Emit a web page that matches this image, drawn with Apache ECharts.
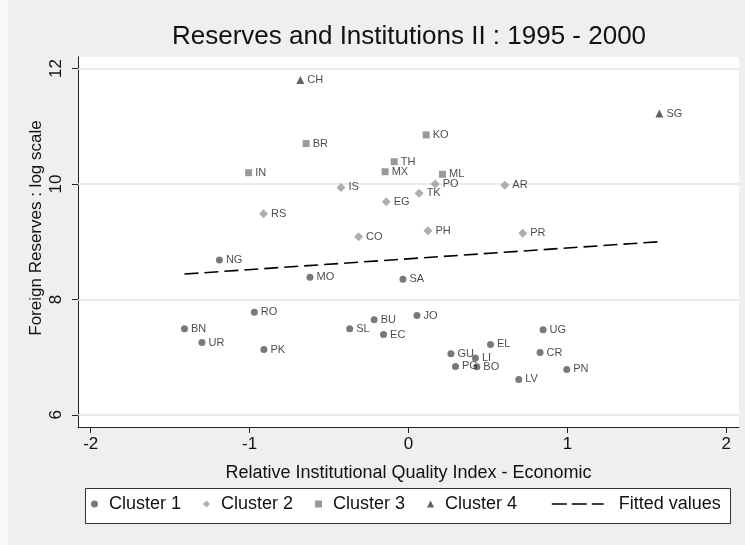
<!DOCTYPE html>
<html>
<head>
<meta charset="utf-8">
<script src="https://cdn.jsdelivr.net/npm/echarts@6/dist/echarts.min.js"></script>
<style>
html,body{margin:0;padding:0;background:#efefef;}
#chart{width:745px;height:545px;}
</style>
</head>
<body>
<div id="chart"></div>
<script>
// ---- data ----
const xTicks = [-2, -1, 0, 1, 2];
const yTicks = [6, 8, 10, 12];

const c1Names = ['NG','MO','RO','BN','SL','UR','PK','SA','BU','JO','EC','UG','EL','GU','CR','LI','PG','BO','PN','LV'];
const c1X = [-1.19,-0.62,-0.97,-1.41,-0.37,-1.30,-0.91,-0.035,-0.216,0.053,-0.157,0.847,0.516,0.267,0.828,0.421,0.296,0.430,0.996,0.694];
const c1Y = [8.685,8.386,7.78,7.491,7.491,7.254,7.133,8.351,7.647,7.722,7.393,7.474,7.22,7.059,7.081,6.984,6.84,6.835,6.787,6.614];

const c2Names = ['IS','RS','CO','PO','AR','TK','EG','PH','PR'];
const c2X = [-0.425,-0.912,-0.314,0.168,0.606,0.067,-0.140,0.122,0.719];
const c2Y = [9.94,9.486,9.088,10.0,9.98,9.84,9.694,9.19,9.147];

const c3Names = ['BR','IN','KO','TH','MX','ML'];
const c3X = [-0.644,-1.006,0.111,-0.090,-0.147,0.214];
const c3Y = [10.70,10.196,10.85,10.386,10.213,10.168];

const c4Names = ['CH','SG'];
const c4X = [-0.681,1.579];
const c4Y = [11.80,11.22];

const fitX = [-1.41, 1.58];
const fitY = [8.44, 9.00];

const seriesNames = ['Cluster 1','Cluster 2','Cluster 3','Cluster 4','Fitted values'];
// ---------------

const FONT = "'Liberation Sans', Arial, sans-serif";

function pts(names, xs, ys) {
  return names.map((n, i) => ({ name: n, value: [xs[i], ys[i]] }));
}

const labelStyle = {
  show: true, position: 'right', distance: 3,
  formatter: p => p.name, fontSize: 11, color: '#1a1a1a', fontFamily: FONT
};

const chart = echarts.init(document.getElementById('chart'), null, { renderer: 'canvas' });

chart.setOption({
  backgroundColor: '#efefef',
  animation: false,
  title: {
    text: 'Reserves and Institutions II : 1995 - 2000',
    left: 167, top: 19,
    textStyle: { fontSize: 26, fontWeight: 'normal', color: '#111', fontFamily: FONT }
  },
  graphic: [
    { type: 'rect', z: -10, shape: { x: 0, y: 0, width: 8, height: 545 }, style: { fill: '#f9f9f9' } },
    { type: 'rect', z: 0, shape: { x: 85.5, y: 488.5, width: 645, height: 35 }, style: { fill: '#ffffff', stroke: '#333', lineWidth: 1 } }
  ],
  grid: {
    left: 78, right: 6, top: 57, bottom: 118,
    show: true, backgroundColor: '#ffffff', borderWidth: 0
  },
  xAxis: {
    type: 'value', min: -2.08, max: 2.08,
    name: 'Relative Institutional Quality Index - Economic',
    nameLocation: 'middle', nameGap: 37, nameMoveOverlap: false,
    nameTextStyle: { fontSize: 18, color: '#111', fontFamily: FONT },
    axisLine: { show: true, onZero: false, lineStyle: { color: '#222', width: 1 } },
    axisTick: { show: true, length: 6, customValues: xTicks, lineStyle: { color: '#222' } },
    axisLabel: { customValues: xTicks, fontSize: 17, color: '#111', margin: 9, fontFamily: FONT },
    splitLine: { show: false }
  },
  yAxis: {
    type: 'value', min: 5.79, max: 12.2,
    name: 'Foreign Reserves : log scale',
    nameLocation: 'middle', nameGap: 33, nameMoveOverlap: false,
    nameTextStyle: { fontSize: 17, color: '#111', fontFamily: FONT, padding: [0, 0, 0, 28] },
    axisLine: { show: true, onZero: false, lineStyle: { color: '#222', width: 1 } },
    axisTick: { show: true, length: 6, customValues: yTicks, lineStyle: { color: '#222' } },
    axisLabel: { customValues: yTicks, rotate: 90, fontSize: 17, color: '#111', margin: 13, fontFamily: FONT },
    splitLine: { show: false }
  },
  legend: [
    {
      data: seriesNames.slice(0, 4),
      left: 91, top: 495, padding: 0,
      itemWidth: 7, itemHeight: 7, itemGap: 22,
      textStyle: { fontSize: 18, color: '#111', fontFamily: FONT, padding: [0, 0, 0, 6] }
    },
    {
      data: [seriesNames[4]],
      left: 551, top: 495, padding: 0,
      itemWidth: 52, itemHeight: 10, itemGap: 0,
      itemStyle: { opacity: 0 },
      lineStyle: { type: [15, 5], width: 1.6, color: '#000' },
      textStyle: { fontSize: 18, color: '#111', fontFamily: FONT, padding: [0, 0, 0, 10] }
    }
  ],
  series: [
    {
      name: seriesNames[0], type: 'scatter', symbol: 'circle', symbolSize: 7,
      itemStyle: { color: '#575757' }, label: labelStyle,
      data: pts(c1Names, c1X, c1Y), z: 5
    },
    {
      name: seriesNames[1], type: 'scatter', symbol: 'diamond', symbolSize: 9,
      itemStyle: { color: '#9a9a9a' }, label: labelStyle,
      data: pts(c2Names, c2X, c2Y), z: 5
    },
    {
      name: seriesNames[2], type: 'scatter', symbol: 'rect', symbolSize: 7,
      itemStyle: { color: '#808080' }, label: labelStyle,
      data: pts(c3Names, c3X, c3Y), z: 5
    },
    {
      name: seriesNames[3], type: 'scatter', symbol: 'triangle', symbolSize: 8,
      itemStyle: { color: '#3a3a3a' }, label: labelStyle,
      data: pts(c4Names, c4X, c4Y), z: 5
    },
    {
      name: seriesNames[4], type: 'line', symbol: 'none',
      lineStyle: { color: '#000', width: 1.6, type: [14, 6] },
      itemStyle: { color: '#000' },
      data: fitX.map((x, i) => [x, fitY[i]]), z: 4,
      markLine: {
        silent: true, symbol: 'none', z: 1,
        label: { show: false },
        lineStyle: { color: '#e3e3e3', width: 1.5, type: 'solid' },
        data: yTicks.map(v => ({ yAxis: v }))
      }
    }
  ]
});
</script>
</body>
</html>
